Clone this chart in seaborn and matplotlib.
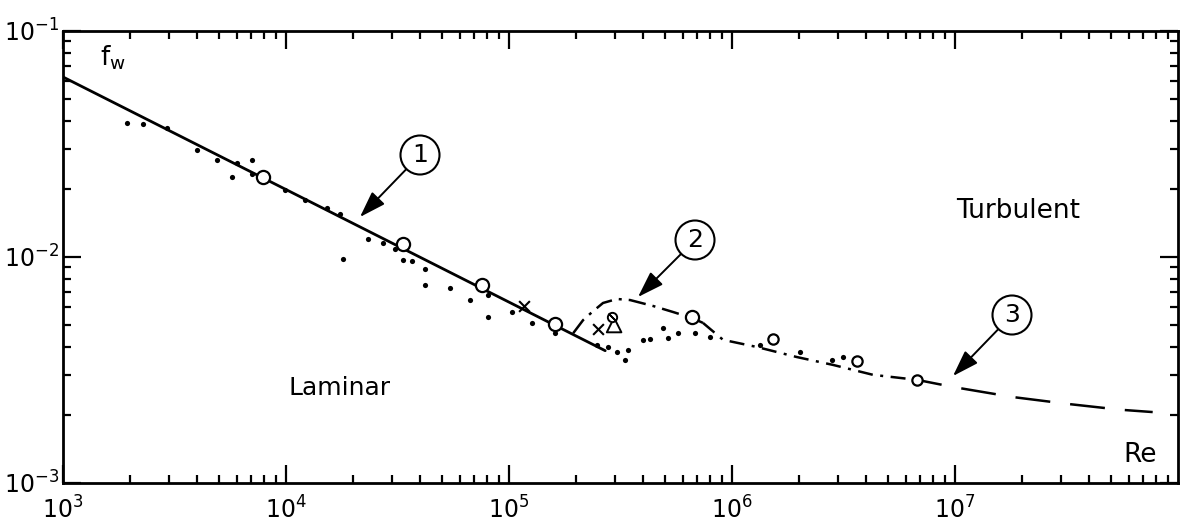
import numpy as np
import pandas as pd
import matplotlib
matplotlib.use("Agg")
import matplotlib.pyplot as plt
import seaborn as sns
from matplotlib.ticker import LogLocator, NullFormatter, FixedLocator

# ---------------- data ----------------
# curve 1: laminar line
lam_re = [1.0e3, 2.7e5]
lam_f = [0.0626, 0.00385]

# curve 2: transition (dash-dot)
tr_re = [1.94e5, 2.15e5, 2.36e5, 2.64e5, 3.05e5, 3.49e5, 4.43e5, 5.44e5, 6.62e5, 7.41e5]
tr_f = [4.60e-3, 5.26e-3, 5.71e-3, 6.26e-3, 6.52e-3, 6.45e-3, 6.07e-3, 5.71e-3, 5.37e-3, 5.11e-3]

# curve 3: turbulent (short dashes, then long dashes)
tu_re = [7.41e5, 9.12e5, 1.29e6, 1.95e6, 2.84e6, 4.29e6, 6.76e6]
tu_f = [5.11e-3, 4.30e-3, 4.00e-3, 3.61e-3, 3.33e-3, 3.01e-3, 2.86e-3]
tu2_re = [6.76e6, 9.8e6, 1.82e7, 3.18e7, 5.5e7, 7.7e7]
tu2_f = [2.86e-3, 2.66e-3, 2.40e-3, 2.24e-3, 2.11e-3, 2.06e-3]

# open circles
circ_re = [7.89e3, 3.35e4, 7.57e4, 1.61e5, 6.62e5]
circ_f = [0.0226, 0.01143, 7.52e-3, 5.06e-3, 5.43e-3]
circ2_re = [1.53e6, 3.64e6, 6.76e6]
circ2_f = [4.34e-3, 3.47e-3, 2.86e-3]

# crosses, triangle, slashed circle
x_re = [1.17e5, 2.51e5]
x_f = [6.07e-3, 4.80e-3]
tri_re = [2.96e5]
tri_f = [5.0e-3]
sl_re = [2.90e5]
sl_f = [5.43e-3]

# small filled dots
dot_re = [1.94e3, 2.28e3, 2.92e3, 3.99e3, 4.91e3, 6.03e3, 7.04e3, 5.73e3, 7.04e3, 9.91e3,
          1.22e4, 1.53e4, 1.75e4, 2.33e4, 2.72e4, 1.80e4, 3.08e4, 3.35e4, 3.67e4, 4.20e4,
          4.20e4, 5.43e4, 6.68e4, 8.05e4, 8.05e4, 1.03e5, 1.27e5, 1.61e5, 2.48e5, 2.78e5,
          3.05e5, 3.42e5, 3.31e5, 3.99e5, 4.29e5, 4.91e5, 5.16e5, 5.73e5, 6.82e5, 7.96e5,
          1.34e6, 2.02e6, 2.81e6, 3.15e6]
dot_f = [0.0392, 0.0387, 0.0372, 0.0297, 0.0268, 0.0260, 0.0268, 0.0226, 0.0233, 0.0198,
         0.0179, 0.0165, 0.0155, 0.0120, 0.0115, 0.0098, 0.0108, 0.0097, 0.0096, 0.00885,
         0.00752, 0.00729, 0.00645, 0.00679, 0.00543, 0.00571, 0.00511, 0.00461, 0.00408, 0.00400,
         0.00380, 0.00388, 0.00350, 0.00430, 0.00434, 0.00485, 0.00438, 0.00461, 0.00461, 0.00443,
         0.00408, 0.00380, 0.00350, 0.00361]

x_major = [1e3, 1e4, 1e5, 1e6, 1e7]
y_major = [1e-3, 1e-2, 1e-1]

# ---------------- figure ----------------
sns.set_theme(style="white")
plt.rcParams["font.family"] = ["DejaVu Sans"]
plt.rcParams["mathtext.fontset"] = "dejavusans"

W, H = 1182, 529
fig = plt.figure(figsize=(W / 100, H / 100), dpi=100)
L, R, T, B = 63, 1178, 31, 483
ax = fig.add_axes([L / W, (H - B) / H, (R - L) / W, (B - T) / H])
ax.set_xscale("log")
ax.set_yscale("log")
ax.set_xlim(1e3, 1e8)
ax.set_ylim(1e-3, 1e-1)

k = "black"
sns.lineplot(x=lam_re, y=lam_f, ax=ax, color=k, lw=2.0, sort=False, estimator=None)
sns.lineplot(x=tr_re, y=tr_f, ax=ax, color=k, lw=1.8, sort=False, estimator=None,
             linestyle=(0, (7, 2.8, 1.2, 2.8)))
sns.lineplot(x=tu_re, y=tu_f, ax=ax, color=k, lw=1.8, sort=False, estimator=None,
             linestyle=(0, (6, 3, 1.2, 3)))
sns.lineplot(x=tu2_re, y=tu2_f, ax=ax, color=k, lw=1.8, sort=False, estimator=None,
             linestyle=(4, (14, 8)))

sns.scatterplot(x=dot_re, y=dot_f, ax=ax, color=k, s=14, marker="o", linewidth=0)
sns.scatterplot(x=circ_re, y=circ_f, ax=ax, s=90, marker="o", facecolor="white",
                edgecolor=k, linewidth=1.6, zorder=5)
sns.scatterplot(x=circ2_re, y=circ2_f, ax=ax, s=55, marker="o", facecolor="white",
                edgecolor=k, linewidth=1.6, zorder=5)
sns.scatterplot(x=x_re, y=x_f, ax=ax, s=60, marker="x", color=k, linewidth=1.5, zorder=5)
sns.scatterplot(x=tri_re, y=tri_f, ax=ax, s=110, marker="^", facecolor="none",
                edgecolor=k, linewidth=1.4, zorder=5)
sns.scatterplot(x=sl_re, y=sl_f, ax=ax, s=45, marker="o", facecolor="white",
                edgecolor=k, linewidth=1.4, zorder=6)
sns.scatterplot(x=sl_re, y=sl_f, ax=ax, s=45, marker=(2, 2, 45), color=k,
                linewidth=1.2, zorder=7)

# ---------------- axes styling ----------------
for sp in ax.spines.values():
    sp.set_linewidth(2.0)
    sp.set_color(k)
ax.xaxis.set_major_locator(FixedLocator(x_major))
ax.xaxis.set_minor_locator(LogLocator(base=10, subs=np.arange(2, 10), numticks=50))
ax.yaxis.set_major_locator(FixedLocator(y_major))
ax.yaxis.set_minor_locator(LogLocator(base=10, subs=np.arange(2, 10), numticks=50))
ax.set_xticklabels([r"$10^{%d}$" % int(round(np.log10(v))) for v in x_major])
ax.set_yticklabels([r"$10^{%d}$" % int(round(np.log10(v))) for v in y_major])
ax.xaxis.set_minor_formatter(NullFormatter())
ax.yaxis.set_minor_formatter(NullFormatter())
ax.tick_params(which="both", direction="in", top=True, right=True, bottom=True, left=True,
               color=k, width=1.6)
ax.tick_params(which="major", length=13, labelsize=17, labelcolor=k)
ax.tick_params(which="minor", length=6)
ax.tick_params(axis="x", which="major", pad=10)
ax.tick_params(axis="y", which="major", pad=3)
ax.set_xlim(1e3, 1e8)
ax.set_xlabel("")
ax.set_ylabel("")

def fx(px):
    return (px - L) / (R - L)

def fy(py):
    return (B - py) / (B - T)

# texts
ax.text(fx(100), fy(58), r"f$_\mathregular{w}$", transform=ax.transAxes, fontsize=19,
        ha="left", va="center", color=k)
ax.text(fx(340), fy(388), "Laminar", transform=ax.transAxes, fontsize=18,
        ha="center", va="center", color=k)
ax.text(fx(1018), fy(211), "Turbulent", transform=ax.transAxes, fontsize=19,
        ha="center", va="center", color=k)
ax.text(fx(1140), fy(455), "Re", transform=ax.transAxes, fontsize=19,
        ha="center", va="center", color=k)

# circled numbers with arrows
for lab, (cx, cy), (tx, ty) in [("1", (420, 155), (360, 217)),
                                  ("2", (695, 240), (638, 297)),
                                  ("3", (1012, 315), (953, 376))]:
    ax.annotate(lab, xy=(fx(tx), fy(ty)), xycoords="axes fraction",
                xytext=(fx(cx), fy(cy)), textcoords="axes fraction",
                fontsize=18, ha="center", va="center", color=k,
                bbox=dict(boxstyle="circle,pad=0.3", fc="white", ec=k, lw=1.5),
                arrowprops=dict(arrowstyle="-|>,head_length=0.9,head_width=0.3",
                                color=k, lw=1.4, shrinkA=0, shrinkB=0))

fig.savefig("out.png", dpi=100)
